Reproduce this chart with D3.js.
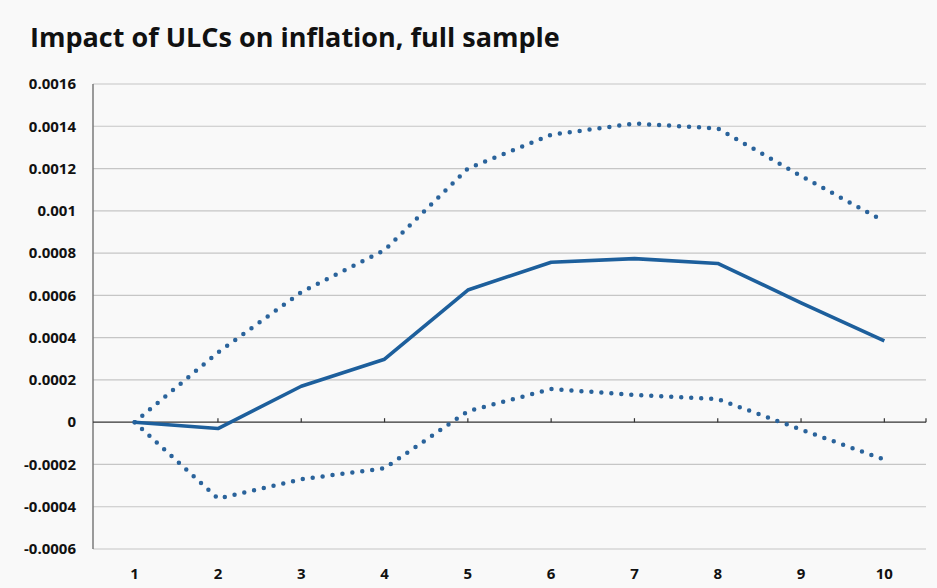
<!DOCTYPE html>
<meta charset="utf-8">
<script src="https://d3js.org/d3.v7.min.js"></script>
<style>
body { margin: 0; background: #f9f9f9; }
text { font-family: "Open Sans", sans-serif; fill: #111; }
.grid line { stroke: #c6c6c6; stroke-width: 1.2px; }
</style>
<body>
<script>
// horizon (periods) and responses
var periods = [1, 2, 3, 4, 5, 6, 7, 8, 9, 10];
var central = [0, -0.00003, 0.00017, 0.000298, 0.000625, 0.000757, 0.000774, 0.000751, 0.000565, 0.000385];
var upper   = [0, 0.00033, 0.000615, 0.000814, 0.0012, 0.00136, 0.001413, 0.00139, 0.001165, 0.00095];
var lower   = [0, -0.000361, -0.00027, -0.000218, 0.000052, 0.000157, 0.000129, 0.000109, -0.000035, -0.000177];
var yTicks  = [-0.0006, -0.0004, -0.0002, 0, 0.0002, 0.0004, 0.0006, 0.0008, 0.001, 0.0012, 0.0014, 0.0016];

var W = 937, H = 588;
var margin = {top: 84, right: 11, bottom: 39, left: 93};
var w = W - margin.left - margin.right;
var h = H - margin.top - margin.bottom;
var blue = '#1d5f9c';

var svg = d3.select('body').append('svg')
    .attr('width', W)
    .attr('height', H);

svg.append('rect').attr('width', W).attr('height', H).attr('fill', '#f9f9f9');

svg.append('text')
    .text('Impact of ULCs on inflation, full sample')
    .attr('x', 30)
    .attr('y', 47)
    .style('font-size', '27px')
    .style('font-weight', 'bold');

var g = svg.append('g').attr('transform', 'translate(' + margin.left + ',' + margin.top + ')');

var x = d3.scaleBand().domain(periods).range([0, w]);
var y = d3.scaleLinear().domain([-0.0006, 0.0016]).range([h, 0]);
var cx = function(d) { return x(d) + x.bandwidth() / 2; };

// gridlines
g.append('g').attr('class', 'grid')
    .selectAll('line')
    .data(yTicks.filter(function(d) { return d !== 0; }))
    .enter().append('line')
    .attr('x1', 0).attr('x2', w)
    .attr('y1', function(d) { return y(d); })
    .attr('y2', function(d) { return y(d); });

// y labels
g.append('g')
    .selectAll('text')
    .data(yTicks)
    .enter().append('text')
    .attr('x', -17)
    .attr('y', function(d) { return y(d); })
    .attr('dy', '0.35em')
    .attr('text-anchor', 'end')
    .style('font-size', '15px')
    .style('font-weight', 'bold')
    .text(function(d) { return d === 0 ? '0' : String(+d.toFixed(4)); });

// left axis
g.append('line')
    .attr('x1', 0).attr('x2', 0)
    .attr('y1', 0).attr('y2', h)
    .attr('stroke', '#7a7a7a')
    .attr('stroke-width', 1.5);

// zero axis with ticks
g.append('line')
    .attr('x1', 0).attr('x2', w)
    .attr('y1', y(0)).attr('y2', y(0))
    .attr('stroke', '#333')
    .attr('stroke-width', 1.3);

g.append('g')
    .selectAll('line')
    .data(periods.slice(1).map(cx).concat([w]))
    .enter().append('line')
    .attr('x1', function(d) { return d; })
    .attr('x2', function(d) { return d; })
    .attr('y1', y(0))
    .attr('y2', y(0) - 4)
    .attr('stroke', '#333')
    .attr('stroke-width', 1.2);

// x labels
g.append('g')
    .selectAll('text')
    .data(periods)
    .enter().append('text')
    .attr('x', cx)
    .attr('y', h + 30)
    .attr('text-anchor', 'middle')
    .style('font-size', '15px')
    .style('font-weight', 'bold')
    .text(function(d) { return d; });

var line = d3.line()
    .x(function(d, i) { return cx(periods[i]); })
    .y(function(d) { return y(d); });

[upper, lower].forEach(function(s) {
    g.append('path')
        .attr('d', line(s))
        .attr('fill', 'none')
        .attr('stroke', '#2a639b')
        .attr('stroke-width', 4.5)
        .attr('stroke-linecap', 'round')
        .attr('stroke-dasharray', '0 10');
});

g.append('path')
    .attr('d', line(central))
    .attr('fill', 'none')
    .attr('stroke', blue)
    .attr('stroke-width', 3.6)
    .attr('stroke-linejoin', 'round');
</script>
</body>
